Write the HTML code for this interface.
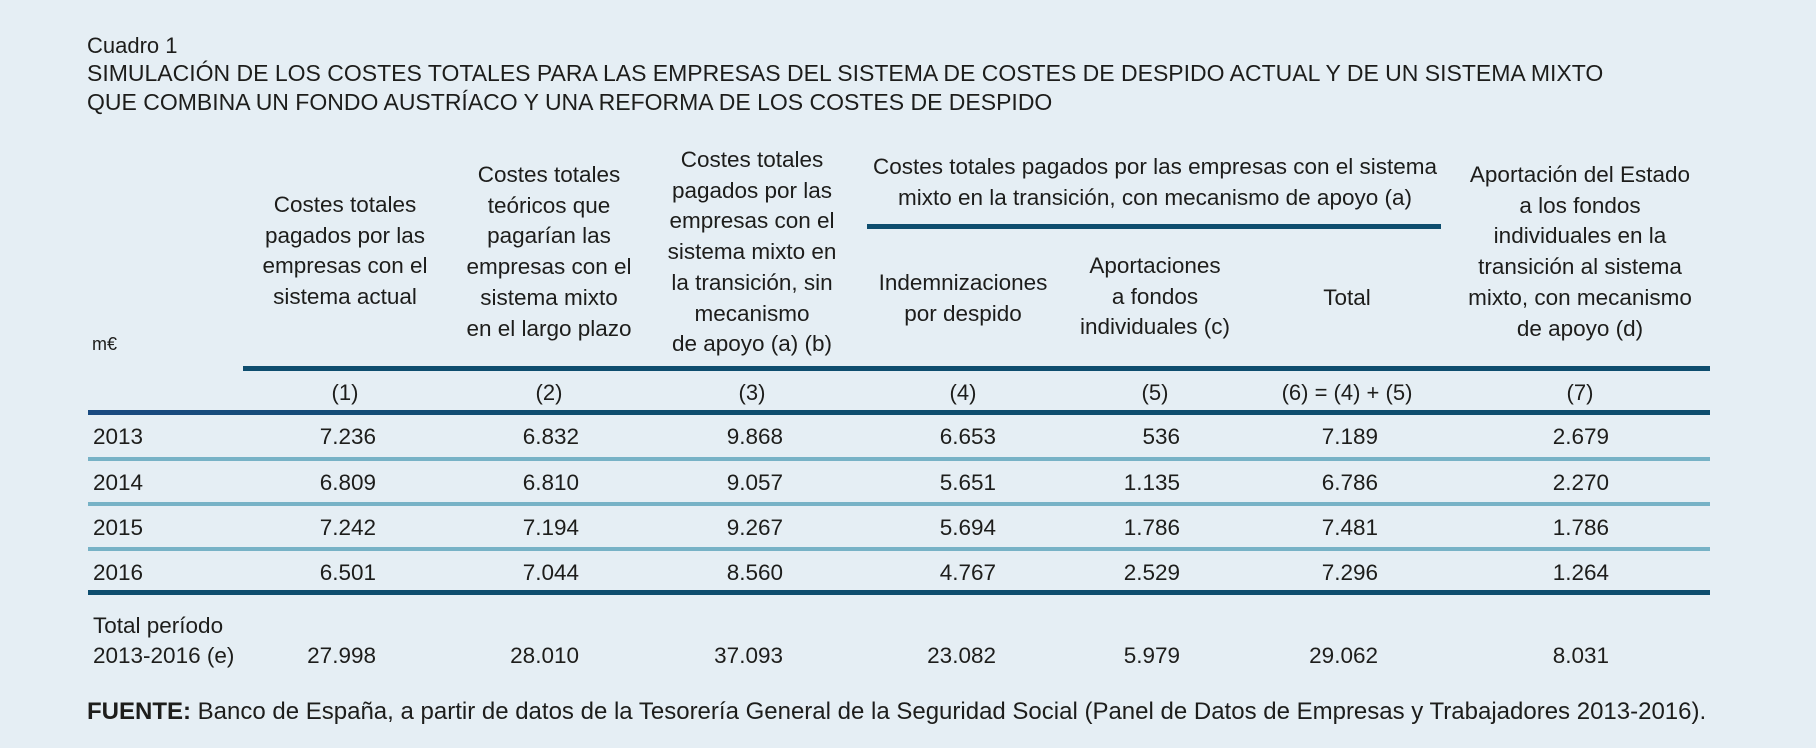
<!DOCTYPE html>
<html><head><meta charset="utf-8">
<style>
html,body{margin:0;padding:0}
body{width:1816px;height:748px;background:#e5eef4;position:relative;overflow:hidden;font-family:"Liberation Sans",sans-serif;color:#1d1d1b}
.a{position:absolute;white-space:nowrap}
.h{position:absolute;text-align:center;font-size:22.5px;line-height:30.7px;white-space:nowrap;transform:translateX(-50%)}
.t{font-size:23px;line-height:29px}
.ln{position:absolute}
.dk{background:#0e4d6e}
.lt{background:#77b2c6}
.c{font-size:22.5px;line-height:28px}
</style></head><body>
<div class="a t" style="left:87px;top:31px;font-size:22px">Cuadro 1</div>
<div class="a t" style="left:87px;top:59px">SIMULACIÓN DE LOS COSTES TOTALES PARA LAS EMPRESAS DEL SISTEMA DE COSTES DE DESPIDO ACTUAL Y DE UN SISTEMA MIXTO<br>QUE COMBINA UN FONDO AUSTRÍACO Y UNA REFORMA DE LOS COSTES DE DESPIDO</div>

<div class="a" style="left:92px;top:334px;font-size:18px">m€</div>
<div class="h" style="left:345px;top:190px">Costes totales<br>pagados por las<br>empresas con el<br>sistema actual</div>
<div class="h" style="left:549px;top:160px">Costes totales<br>teóricos que<br>pagarían las<br>empresas con el<br>sistema mixto<br>en el largo plazo</div>
<div class="h" style="left:752px;top:145px">Costes totales<br>pagados por las<br>empresas con el<br>sistema mixto en<br>la transición, sin<br>mecanismo<br>de apoyo (a) (b)</div>
<div class="h" style="left:1155px;top:152px">Costes totales pagados por las empresas con el sistema<br>mixto en la transición, con mecanismo de apoyo (a)</div>
<div class="h" style="left:963px;top:268px">Indemnizaciones<br>por despido</div>
<div class="h" style="left:1155px;top:251px">Aportaciones<br>a fondos<br>individuales (c)</div>
<div class="h" style="left:1347px;top:283px">Total</div>
<div class="h" style="left:1580px;top:160px">Aportación del Estado<br>a los fondos<br>individuales en la<br>transición al sistema<br>mixto, con mecanismo<br>de apoyo (d)</div>

<div class="ln dk" style="left:867px;top:224px;width:574px;height:5px"></div>
<div class="ln dk" style="left:243px;top:366px;width:1467px;height:5px"></div>
<div class="ln dk" style="left:88px;top:410px;width:1622px;height:5px;background:linear-gradient(90deg,#1a4a80,#0e4d6e 30%)"></div>
<div class="ln lt" style="left:88px;top:457px;width:1622px;height:4px"></div>
<div class="ln lt" style="left:88px;top:502px;width:1622px;height:4px"></div>
<div class="ln lt" style="left:88px;top:547px;width:1622px;height:4px"></div>
<div class="ln dk" style="left:88px;top:590px;width:1622px;height:5px"></div>

<div class="a" style="left:87px;top:698px;font-size:24px;line-height:28px"><b>FUENTE:</b> Banco de España, a partir de datos de la Tesorería General de la Seguridad Social (Panel de Datos de Empresas y Trabajadores 2013-2016).</div>

<script>
const colLabels = ["(1)","(2)","(3)","(4)","(5)","(6) = (4) + (5)","(7)"];
const years = ["2013","2014","2015","2016"];
const col1 = ["7.236","6.809","7.242","6.501"];
const col2 = ["6.832","6.810","7.194","7.044"];
const col3 = ["9.868","9.057","9.267","8.560"];
const col4 = ["6.653","5.651","5.694","4.767"];
const col5 = ["536","1.135","1.786","2.529"];
const col6 = ["7.189","6.786","7.481","7.296"];
const col7 = ["2.679","2.270","1.786","1.264"];
const totals = ["27.998","28.010","37.093","23.082","5.979","29.062","8.031"];

const centers=[345,549,752,963,1155,1347,1580];
const rights=[376,579,783,996,1180,1378,1609];
const rowY=[437,483,528,573];
const cols=[col1,col2,col3,col4,col5,col6,col7];
function mk(txt,cls,style){const d=document.createElement('div');d.className='a c '+cls;d.textContent=txt;Object.assign(d.style,style);document.body.appendChild(d);return d;}
colLabels.forEach((l,i)=>{
  const d=mk(l,'',{left:(centers[i]-150)+'px',width:'300px',textAlign:'center',top:(393-14)+'px',fontSize:'22px'});
  
  
});
years.forEach((y,r)=>{
  const d=mk(y,'',{left:'93px',top:(rowY[r]-14)+'px'});
  
  
  cols.forEach((c,i)=>{
    const e=mk(c[r],'',{left:(rights[i]-200)+'px',width:'200px',textAlign:'right',top:(rowY[r]-14)+'px'});
    
    
  });
});
const t1=mk('Total período','',{left:'93px',top:(626-14)+'px'});


const t2=mk('2013-2016 (e)','',{left:'93px',top:(656-14)+'px'});


totals.forEach((v,i)=>{
  const e=mk(v,'',{left:(rights[i]-200)+'px',width:'200px',textAlign:'right',top:(656-14)+'px'});
  
  
});
</script>
</body></html>
